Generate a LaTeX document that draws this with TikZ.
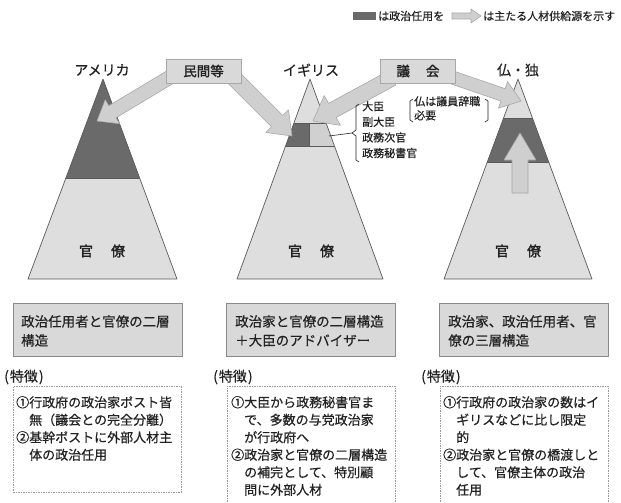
\documentclass[tikz,border=0pt]{standalone}
\usepackage{fontspec}
\setmainfont{Noto Sans CJK JP}[FakeBold=0.5, AutoFakeBold=1.8]
\usetikzlibrary{calc}
\definecolor{darkband}{HTML}{6A6A6A}
\definecolor{pyrfill}{HTML}{DEDEDE}
\definecolor{midfill}{HTML}{D0D0D0}
\definecolor{pyredge}{HTML}{5A5A5A}
\definecolor{arrfill}{HTML}{CFCFCF}
\definecolor{arredge}{HTML}{A8A8A8}
\definecolor{boxfill}{HTML}{D9D9D9}
\definecolor{boxedge}{HTML}{8A8A8A}
\definecolor{dashedge}{HTML}{9A9A9A}
\definecolor{txt}{HTML}{222222}
\tikzset{
  pyrline/.style={draw=pyredge, line width=0.7pt, line join=round},
  bandline/.style={draw=pyredge, line width=0.5pt},
  fatarrowstyle/.style={fill=arrfill, draw=arredge, line width=0.6pt, line join=round},
  topbox/.style={draw=arredge, fill=boxfill, line width=0.8pt, minimum width=75pt, minimum height=24pt, inner sep=0pt, font=\fontsize{13.5}{16}\selectfont\bfseries},
  graybox/.style={draw=boxedge, fill=boxfill, line width=1pt, anchor=north west, inner sep=0pt, minimum width=169pt, minimum height=53pt},
  featbox/.style={draw=dashedge, line width=0.8pt, dash pattern=on 1.5pt off 1pt, anchor=north west, inner sep=0pt, minimum width=168pt},
  boxtext/.style={anchor=north west, align=left, inner sep=0pt, font=\fontsize{13.5}{19}\selectfont},
  feattext/.style={anchor=north west, align=left, inner sep=0pt, font=\fontsize{13}{17.5}\selectfont},
  toplabel/.style={font=\fontsize{14}{16}\selectfont, inner sep=0pt},
  kanlabel/.style={font=\fontsize{14}{16}\selectfont\bfseries, inner sep=0pt},
  smalltext/.style={font=\fontsize{11}{15.6}\selectfont, align=left, inner sep=0pt, anchor=north west},
  thinline/.style={draw=txt, line width=0.6pt, line join=round}
}
\newcommand{\fatarrow}[5]{%
  \coordinate (fa-h) at ($(#2)!#5!(#1)$);
  \filldraw[fatarrowstyle] ($(#1)!#3!90:(#2)$) -- ($(fa-h)!#3!90:(#2)$) -- ($(fa-h)!#4!90:(#2)$) -- (#2) -- ($(fa-h)!#4!-90:(#2)$) -- ($(fa-h)!#3!-90:(#2)$) -- ($(#1)!#3!-90:(#2)$) -- cycle;
}
\begin{document}
\begin{tikzpicture}[x=1pt, y=-1pt, text=txt]
\useasboundingbox (0,0) rectangle (621,503);
\clip (0,0) rectangle (621,503);
\fill[white] (0,0) rectangle (621,503);

% ---------- legend ----------
\fill[darkband] (353,12) rectangle (376,20);
\node[font=\fontsize{11}{13}\selectfont, anchor=west, inner sep=0pt] (lg1) at (378,16) {は政治任用を};
\coordinate (lgs) at (452,16);
\coordinate (lge) at (481,16);
\fatarrow{lgs}{lge}{3pt}{7pt}{10pt}
\node[font=\fontsize{11}{13}\selectfont, anchor=west, inner sep=0pt] (lg2) at (483,16) {は主たる人材供給源を示す};

% ---------- pyramids ----------
% America
\coordinate (usA) at (103,79);
\coordinate (usL) at (28,279);
\coordinate (usR) at (177,279);
\begin{scope}
  \clip (usA) -- (usL) -- (usR) -- cycle;
  \fill[pyrfill] (0,60) rectangle (621,300);
  \fill[darkband] (0,60) rectangle (210,178);
  \draw[bandline] (0,178) -- (210,178);
\end{scope}
\draw[pyrline] (usA) -- (usL) -- (usR) -- cycle;

% UK
\coordinate (ukA) at (310,79);
\coordinate (ukL) at (237,279);
\coordinate (ukR) at (383,279);
\begin{scope}
  \clip (ukA) -- (ukL) -- (ukR) -- cycle;
  \fill[pyrfill] (0,60) rectangle (621,300);
  \fill[darkband] (270,123) rectangle (309,146);
  \fill[midfill] (309,123) rectangle (350,146);
  \draw[bandline] (270,123) rectangle (350,146);
  \draw[bandline] (309,123) -- (309,146);
\end{scope}
\draw[pyrline] (ukA) -- (ukL) -- (ukR) -- cycle;

% France / Germany
\coordinate (frA) at (518,79);
\coordinate (frL) at (444,279);
\coordinate (frR) at (592,279);
\begin{scope}
  \clip (frA) -- (frL) -- (frR) -- cycle;
  \fill[pyrfill] (0,60) rectangle (621,300);
  \fill[darkband] (420,118) rectangle (621,162);
  \draw[bandline] (420,118) -- (621,118);
  \draw[bandline] (420,162) -- (621,162);
\end{scope}
\draw[pyrline] (frA) -- (frL) -- (frR) -- cycle;

% ---------- labels above pyramids ----------
\node[toplabel] (lus) at (102,70) {アメリカ};
\node[toplabel] (luk) at (311,70) {イギリス};
\node[toplabel] (lfr) at (518,70) {仏・独};

\node[kanlabel] (kus) at (102,251) {官\hspace{18pt}僚};
\node[kanlabel] (kuk) at (311,251) {官\hspace{18pt}僚};
\node[kanlabel] (kfr) at (518,251) {官\hspace{18pt}僚};

% ---------- supply arrows ----------
\coordinate (m1s) at (172,76);
\coordinate (m1e) at (97,121);
\coordinate (m2s) at (233,77);
\coordinate (m2e) at (292,136);
\coordinate (g1s) at (392,78);
\coordinate (g1e) at (313,121);
\coordinate (g2s) at (448,76);
\coordinate (g2e) at (521,101);
\coordinate (fs) at (520,193);
\coordinate (fe) at (520,133);
\fatarrow{m1s}{m1e}{7pt}{14pt}{18pt}
\fatarrow{m2s}{m2e}{8pt}{16pt}{21pt}
\fatarrow{g1s}{g1e}{8pt}{17pt}{22pt}
\fatarrow{g2s}{g2e}{6.5pt}{14pt}{19pt}
\fatarrow{fs}{fe}{8pt}{16pt}{27pt}

% ---------- source boxes ----------
\node[topbox] (minkan) at (203.5,71) {民間等};
\node[topbox] (gikai) at (418,71) {議\hspace{16pt}会};

% ---------- UK brace annotation ----------
\coordinate (ukpt) at (329,136);
\coordinate (brtip) at (352,133);
\draw[thinline] (ukpt) -- (brtip);
\draw[thinline] (359,104) -- (356,106) -- (356,130) -- (brtip) -- (356,136) -- (356,160) -- (359,162);
\node[smalltext] (ministers) at (362,101) {大臣\\副大臣\\政務次官\\政務秘書官};
\draw[thinline] (413,99) -- (410,101) -- (410,120) -- (413,122);
\draw[thinline] (485,99) -- (488,101) -- (488,120) -- (485,122);
\node[smalltext, font=\fontsize{11}{14}\selectfont] (frnote) at (414,96) {仏は議員辞職\\必要};

% ---------- summary boxes ----------
\node[graybox] (s1) at (13,303) {};
\node[graybox] (s2) at (226,303) {};
\node[graybox] (s3) at (439,303) {};
\node[boxtext] (s1t) at ($(s1.north west)+(8,12)$) {政治任用者と官僚の二層\\構造};
\node[boxtext] (s2t) at ($(s2.north west)+(9,12)$) {政治家と官僚の二層構造\\＋大臣のアドバイザー};
\node[boxtext] (s3t) at ($(s3.north west)+(9,12)$) {政治家、政治任用者、官\\僚の三層構造};

% ---------- feature labels ----------
\node[font=\fontsize{14}{16}\selectfont, anchor=west, inner sep=0pt] (f1l) at (4,377) {(\hspace{1pt}特徴\hspace{1pt})};
\node[font=\fontsize{14}{16}\selectfont, anchor=west, inner sep=0pt] (f2l) at (213,377) {(\hspace{1pt}特徴\hspace{1pt})};
\node[font=\fontsize{14}{16}\selectfont, anchor=west, inner sep=0pt] (f3l) at (421,377) {(\hspace{1pt}特徴\hspace{1pt})};

% ---------- feature boxes ----------
\node[featbox, minimum height=106pt] (f1) at (13,386) {};
\node[featbox, minimum height=140pt] (f2) at (227,386) {};
\node[featbox, minimum height=140pt] (f3) at (440,386) {};
\node[feattext] (f1t) at ($(f1.north west)+(3,10)$) {①行政府の政治家ポスト皆\\　無（議会との完全分離）\\②基幹ポストに外部人材主\\　体の政治任用};
\node[feattext] (f2t) at ($(f2.north west)+(4,10)$) {①大臣から政務秘書官ま\\　で、多数の与党政治家\\　が行政府へ\\②政治家と官僚の二層構造\\　の補完として、特別顧\\　問に外部人材};
\node[feattext] (f3t) at ($(f3.north west)+(3,10)$) {①行政府の政治家の数はイ\\　ギリスなどに比し限定\\　的\\②政治家と官僚の橋渡しと\\　して、官僚主体の政治\\　任用};
\end{tikzpicture}
\end{document}
